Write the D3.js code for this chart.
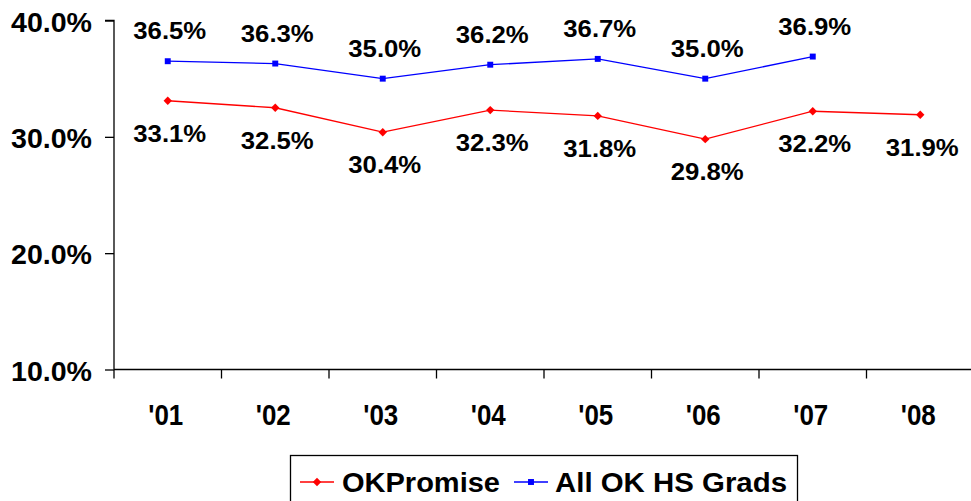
<!DOCTYPE html>
<html>
<head>
<meta charset="utf-8">
<script src="https://cdn.jsdelivr.net/npm/d3@7"></script>
<style>
  html, body { margin: 0; padding: 0; background: #fff; }
  svg { display: block; }
  text { font-family: Arial, "Liberation Sans", sans-serif; font-weight: bold; fill: #000; }
</style>
</head>
<body>
<svg id="chart" width="971" height="501"></svg>
<script>
const categories = ["'01", "'02", "'03", "'04", "'05", "'06", "'07", "'08"];
const okPromise = [33.1, 32.5, 30.4, 32.3, 31.8, 29.8, 32.2, 31.9];
const allGrads = [36.5, 36.3, 35.0, 36.2, 36.7, 35.0, 36.9, null];
const yTicks = [10, 20, 30, 40];
const seriesNames = ["OKPromise", "All OK HS Grads"];
const seriesColors = ["#ff0000", "#0000ff"];

const svg = d3.select("#chart");
const x0 = 114, xStep = 107.5;
const x = d3.scaleBand().domain(categories).range([x0, x0 + xStep * categories.length]).paddingInner(0).paddingOuter(0);
const y = d3.scaleLinear().domain([10, 40]).range([369.5, 20.5]);

// Y axis
const yAxis = svg.append("g").attr("transform", `translate(${x0},0)`)
  .call(d3.axisLeft(y).tickValues(yTicks).tickSize(9).tickFormat(d => d.toFixed(1) + "%"));
yAxis.select(".domain").attr("stroke", "#000").attr("stroke-width", 1.3).attr("d", `M-9,${y(40)}H0V${y(10)}`);
yAxis.selectAll(".tick line").attr("stroke", "#000").attr("stroke-width", 1.3);
yAxis.selectAll(".tick text").remove();
yAxis.selectAll(".tick").append("text")
  .attr("x", -103).attr("y", 10.5)
  .attr("text-anchor", "start")
  .attr("textLength", 81).attr("lengthAdjust", "spacingAndGlyphs")
  .style("font-size", "28px")
  .text(d => d.toFixed(1) + "%");

// X axis
const xAxis = svg.append("g").attr("transform", `translate(0,${y(10)})`);
xAxis.append("line").attr("x1", x0).attr("x2", 971).attr("y1", 0).attr("y2", 0)
  .attr("stroke", "#000").attr("stroke-width", 1.3);
xAxis.selectAll("line.tk").data(categories).enter().append("line").attr("class", "tk")
  .attr("x1", d => x(d)).attr("x2", d => x(d)).attr("y1", 0).attr("y2", 9)
  .attr("stroke", "#000").attr("stroke-width", 1.3);
xAxis.selectAll("text.xl").data(categories).enter().append("text").attr("class", "xl")
  .attr("x", d => x(d) + x.bandwidth() / 2 - 2 - 17.5)
  .attr("y", 55.5)
  .attr("textLength", 35).attr("lengthAdjust", "spacingAndGlyphs")
  .style("font-size", "30px")
  .text(d => d);

const cx = d => x(d) + x.bandwidth() / 2;

function drawSeries(values, color, marker, labelDy) {
  const pts = categories.map((c, i) => ({ c, v: values[i] })).filter(p => p.v != null);
  const line = d3.line().x(p => cx(p.c)).y(p => y(p.v));
  svg.append("path").datum(pts).attr("d", line).attr("fill", "none")
    .attr("stroke", color).attr("stroke-width", 1.3);
  const sym = d3.symbol().type(marker === "diamond" ? d3.symbolDiamond2 : d3.symbolSquare2).size(45);
  svg.selectAll(null).data(pts).enter().append("path")
    .attr("d", sym)
    .attr("transform", p => `translate(${cx(p.c)},${y(p.v)})`)
    .attr("fill", color);
  svg.selectAll(null).data(pts).enter().append("text")
    .attr("x", p => cx(p.c) + 2 - 36.5)
    .attr("y", p => y(p.v) + labelDy)
    .attr("textLength", 73).attr("lengthAdjust", "spacingAndGlyphs")
    .style("font-size", "23px")
    .text(p => p.v.toFixed(1) + "%");
}
drawSeries(okPromise, seriesColors[0], "diamond", 41);
drawSeries(allGrads, seriesColors[1], "square", -22);

// Legend
const lg = svg.append("g");
lg.append("rect").attr("x", 290.5).attr("y", 455.5).attr("width", 507).attr("height", 60)
  .attr("fill", "#fff").attr("stroke", "#000").attr("stroke-width", 1.3);
const legendItems = [
  { name: seriesNames[0], color: seriesColors[0], marker: "diamond", lx: 300, tx: 342, tw: 158 },
  { name: seriesNames[1], color: seriesColors[1], marker: "square", lx: 514, tx: 555, tw: 232 }
];
const ly = 482;
legendItems.forEach(it => {
  lg.append("line").attr("x1", it.lx).attr("x2", it.lx + 34).attr("y1", ly).attr("y2", ly)
    .attr("stroke", it.color).attr("stroke-width", 1.3);
  const sym = d3.symbol().type(it.marker === "diamond" ? d3.symbolDiamond2 : d3.symbolSquare2).size(45);
  lg.append("path").attr("d", sym)
    .attr("transform", `translate(${it.lx + 17},${ly})`)
    .attr("fill", it.color);
  lg.append("text").attr("x", it.tx).attr("y", ly + 10)
    .attr("textLength", it.tw).attr("lengthAdjust", "spacingAndGlyphs")
    .style("font-size", "28px").text(it.name);
});
</script>
</body>
</html>
